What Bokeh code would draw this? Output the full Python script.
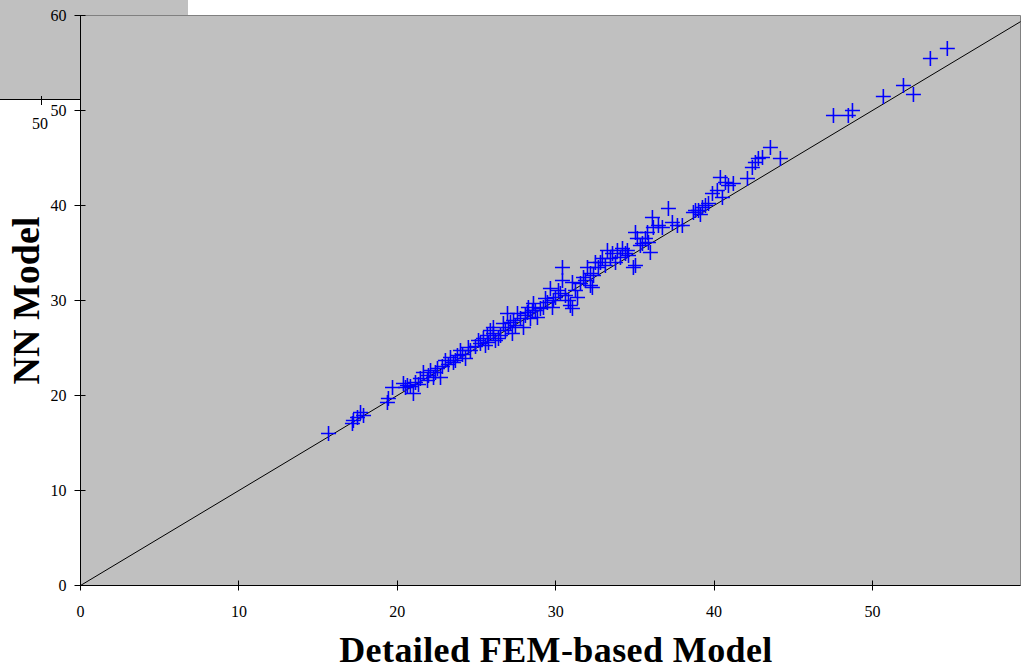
from bokeh.plotting import figure
from bokeh.models import Range1d, FixedTicker, Div
from bokeh.layouts import column
from bokeh.embed import file_html
from bokeh.resources import INLINE

# FEM-based model (x) vs NN model (y)
fem = [15.66, 17.17, 17.23, 17.49, 17.68, 17.87, 19.38, 19.44, 19.70, 20.39,
       20.52, 20.64, 21.02, 21.15, 21.46, 21.91, 21.97, 22.10, 22.29, 22.54,
       22.73, 23.04, 23.36, 23.55, 23.80, 23.99, 24.31, 24.49, 24.62, 25.25,
       25.44, 25.69, 25.76, 25.88, 26.07, 26.07, 26.20, 26.39, 26.70, 26.96,
       27.02, 27.27, 27.34, 27.59, 27.78, 27.97, 28.22, 28.28, 28.54, 28.60,
       28.85, 29.04, 29.23, 29.48, 29.67, 29.80, 29.99, 30.30, 30.43, 30.43,
       30.62, 30.81, 30.93, 31.06, 31.06, 31.38, 31.57, 31.76, 32.01, 32.20,
       32.20, 32.32, 32.51, 32.70, 32.95, 33.14, 33.27, 33.59, 33.90, 34.09,
       34.22, 34.53, 34.60, 34.91, 35.04, 35.04, 35.16, 35.48, 35.80, 35.86,
       35.98, 36.11, 36.17, 36.49, 36.74, 37.12, 37.37, 37.69, 38.00, 38.70,
       38.83, 39.02, 39.27, 39.46, 39.65, 39.90, 40.21, 40.40, 40.53, 40.72,
       40.91, 42.11, 42.42, 42.80, 43.06, 43.56, 44.19, 47.54, 48.48, 48.74,
       50.69, 51.96, 52.59, 53.66, 54.73,
       20.83, 21.34, 21.65, 22.41, 22.85, 23.23, 23.67, 24.12, 24.94, 25.13,
       25.57, 26.52, 26.83, 27.15, 27.46, 28.09, 28.41, 28.72, 29.36, 29.86,
       30.18, 31.25, 31.88, 32.39, 32.83, 33.46, 33.78, 34.41, 35.35, 35.67,
       39.14, 41.22, 42.61]
nn = [16.00, 17.05, 17.37, 17.68, 18.21, 17.89, 19.26, 19.68, 20.84, 21.26,
      20.84, 21.05, 20.21, 21.37, 21.79, 21.58, 22.11, 22.63, 21.89, 22.84,
      21.89, 23.68, 24.00, 23.47, 24.21, 24.74, 23.89, 25.05, 24.74, 25.47,
      26.00, 26.32, 25.58, 26.84, 27.16, 26.53, 25.79, 26.00, 27.58, 28.63,
      27.16, 26.53, 27.89, 28.63, 28.11, 27.16, 28.74, 29.26, 28.95, 29.68,
      28.21, 29.16, 29.26, 29.79, 31.26, 29.26, 30.32, 30.74, 33.47, 32.11,
      30.53, 30.00, 29.47, 31.89, 29.16, 30.32, 31.79, 32.42, 33.47, 31.58,
      32.84, 31.37, 34.00, 33.47, 34.42, 33.68, 35.26, 34.95, 35.26, 34.53,
      35.47, 35.26, 34.74, 33.47, 33.68, 37.16, 36.53, 36.00, 37.16, 36.11,
      35.05, 38.74, 37.68, 37.89, 37.68, 39.68, 38.21, 37.89, 37.89, 39.26,
      39.47, 39.47, 39.79, 40.00, 40.21, 41.26, 41.58, 42.95, 40.84, 42.42,
      42.11, 42.84, 44.00, 44.95, 45.05, 46.11, 44.95, 49.47, 49.47, 50.00,
      51.47, 52.63, 51.68, 55.47, 56.53,
      20.95, 21.16, 22.42, 22.42, 23.05, 23.26, 23.68, 24.32, 25.16, 25.79,
      25.26, 26.32, 26.84, 27.68, 27.37, 28.42, 28.11, 28.95, 30.21, 30.00,
      31.05, 31.05, 32.11, 32.63, 34.00, 34.42, 34.00, 34.95, 35.79, 36.53,
      39.05, 42.32, 44.53]

ref_line = [0, 60]
x_ticks = [0, 10, 20, 30, 40, 50]
y_ticks = [0, 10, 20, 30, 40, 50, 60]
x_title = "Detailed FEM-based Model"
y_title = "NN Model"
stray_label = "50"

p = figure(width=1029, height=670, x_range=Range1d(0, 59.35), y_range=Range1d(0, 60),
           output_backend="svg", toolbar_location=None,
           min_border_left=80, min_border_right=9, min_border_top=15, min_border_bottom=85,
           background_fill_color="#C0C0C0", border_fill_color=None)
p.outline_line_color = "#808080"
p.outline_line_width = 1
p.grid.visible = False

# stray fragment of another chart at the top-left (drawn as page background)
p.styles = {
    "background": ("linear-gradient(#000,#000) 0px 99px/80px 1px no-repeat, "
                   "linear-gradient(#000,#000) 41px 96px/1px 9px no-repeat, "
                   "linear-gradient(#C0C0C0,#C0C0C0) 0px 0px/188px 100px no-repeat, "
                   "#ffffff")
}

p.line(ref_line, ref_line, line_color="black", line_width=1)
p.scatter(fem, nn, marker="cross", size=15, line_color="#0000FF", line_width=1.6)

for ax in (p.xaxis[0], p.yaxis[0]):
    ax.axis_line_color = "black"
    ax.major_tick_line_color = "black"
    ax.minor_tick_line_color = None
    ax.major_label_text_font = "Liberation Serif"
    ax.major_label_text_font_size = "16px"
    ax.major_label_text_color = "black"
    ax.axis_label_text_font = "Liberation Serif"
    ax.axis_label_text_font_style = "bold"
    ax.axis_label_text_color = "black"

p.xaxis.ticker = FixedTicker(ticks=x_ticks)
p.yaxis.ticker = FixedTicker(ticks=y_ticks)
p.xaxis.major_tick_in = 5
p.xaxis.major_tick_out = 5
p.yaxis.major_tick_in = 5
p.yaxis.major_tick_out = 6
p.xaxis.major_label_standoff = 15
p.yaxis.major_label_standoff = 8
p.yaxis.axis_label = y_title
p.yaxis.axis_label_text_font_size = "38px"
p.yaxis.axis_label_standoff = 1

xlab = Div(text=x_title, width=600, height=36,
           styles={"position": "absolute", "left": "251px", "top": "627px",
                   "font-family": "'Liberation Serif'", "font-size": "36px",
                   "font-weight": "bold", "line-height": "36px", "letter-spacing": "0.4px",
                   "text-align": "center", "color": "black", "z-index": "10",
                   "white-space": "nowrap"})
stray = Div(text=stray_label, width=20, height=18,
            styles={"position": "absolute", "left": "27px", "top": "111px",
                    "font-family": "'Liberation Serif'", "font-size": "16px",
                    "line-height": "16px", "color": "black", "z-index": "10"})

open("out.html", "w").write(file_html(column(p, xlab, stray), INLINE))
